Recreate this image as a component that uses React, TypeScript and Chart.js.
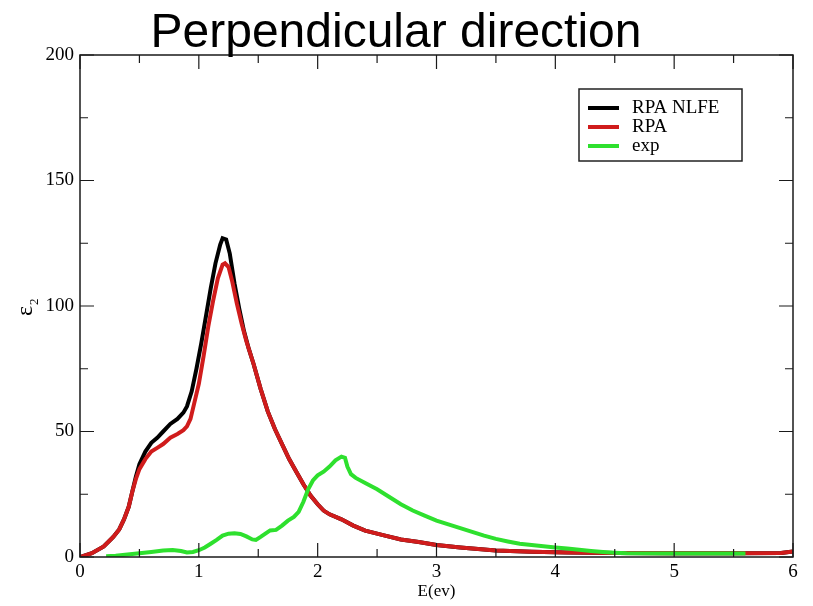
import React, { useEffect, useRef } from "react";
import { Chart, registerables } from "chart.js";
Chart.register(...registerables);

const titleText = "Perpendicular direction";
const xTitle = "E(ev)";
const yTitle = "ε";
const yTitleSub = "2";

const labels = ["RPA NLFE", "RPA", "exp"];

const nlfeE = [0, 0.1, 0.2, 0.28, 0.33, 0.37, 0.41, 0.44, 0.47, 0.5, 0.55, 0.6, 0.65, 0.7, 0.76, 0.82, 0.87, 0.9, 0.94, 0.98, 1.02, 1.06, 1.1, 1.14, 1.18, 1.2, 1.23, 1.26, 1.3, 1.34, 1.38, 1.42, 1.46, 1.52, 1.58, 1.64, 1.7, 1.76, 1.82, 1.88, 1.94, 2.0, 2.05, 2.1, 2.2, 2.3, 2.4, 2.55, 2.7, 2.85, 3.0, 3.2, 3.5, 3.8, 4.1, 4.5, 5.0, 5.5, 5.9, 6.0];
const nlfeV = [0, 1.5, 4.2, 8, 11, 15, 20, 26, 32, 37, 42, 45.5, 47.5, 50, 53, 55, 57.5, 60, 66, 75, 85, 96, 107, 117, 124.5, 127, 126.5, 121, 109, 99, 90, 83, 77, 67, 58, 51, 45, 39, 34, 29, 24.5, 21, 18.5, 17, 15, 12.5, 10.5, 8.7, 7, 6, 4.8, 3.8, 2.6, 2.1, 1.8, 1.6, 1.5, 1.5, 1.6, 2.2];

const rpaE = [0, 0.1, 0.2, 0.28, 0.33, 0.37, 0.41, 0.44, 0.47, 0.5, 0.55, 0.6, 0.65, 0.7, 0.76, 0.82, 0.87, 0.9, 0.93, 0.96, 1.0, 1.04, 1.08, 1.12, 1.16, 1.2, 1.22, 1.25, 1.28, 1.32, 1.36, 1.4, 1.46, 1.52, 1.58, 1.64, 1.7, 1.76, 1.82, 1.88, 1.94, 2.0, 2.05, 2.1, 2.2, 2.3, 2.4, 2.55, 2.7, 2.85, 3.0, 3.2, 3.5, 3.8, 4.1, 4.5, 5.0, 5.5, 5.9, 6.0];
const rpaV = [0, 1.5, 4.2, 8, 11, 15, 20, 26, 31, 35, 39, 42, 43.5, 45, 47.5, 49, 50.5, 52, 55, 61, 69, 80, 92, 102, 111, 116.5, 117, 115.5, 110, 101, 93, 86, 77, 67, 58, 51, 45, 39, 34, 29, 24.5, 21, 18.5, 17, 15, 12.5, 10.5, 8.7, 7, 6, 4.8, 3.8, 2.6, 2.1, 1.8, 1.6, 1.5, 1.5, 1.6, 2.2];

const expE = [0.22, 0.3, 0.4, 0.5, 0.6, 0.7, 0.78, 0.85, 0.9, 0.95, 1.0, 1.05, 1.1, 1.15, 1.2, 1.25, 1.3, 1.35, 1.4, 1.45, 1.48, 1.52, 1.56, 1.6, 1.65, 1.7, 1.75, 1.8, 1.84, 1.88, 1.92, 1.96, 2.0, 2.05, 2.1, 2.15, 2.2, 2.23, 2.25, 2.28, 2.32, 2.4, 2.5, 2.6, 2.7, 2.8, 2.9, 3.0, 3.1, 3.2, 3.3, 3.4, 3.5, 3.6, 3.7, 3.8, 3.9, 4.0, 4.1, 4.2, 4.3, 4.4, 4.5, 4.6, 5.0, 5.3, 5.6];
const expV = [0.3, 0.5, 1, 1.5, 2, 2.6, 2.8, 2.4, 1.8, 2, 2.7, 3.8, 5.3, 6.8, 8.5, 9.3, 9.5, 9.2, 8.2, 7, 6.8, 8, 9.3, 10.6, 10.8, 12.5, 14.5, 16, 18, 22, 27, 30.5, 32.5, 34, 36, 38.5, 40, 39.5, 36, 33, 31.5, 29.5, 27, 24, 21, 18.5, 16.5, 14.5, 13, 11.5, 10, 8.5, 7.2, 6.2, 5.3, 4.8, 4.3, 3.8, 3.4, 2.9, 2.4, 2, 1.7, 1.5, 1.4, 1.4, 1.4];

const xTicks = [0, 1, 2, 3, 4, 5, 6];
const yTicks = [0, 50, 100, 150, 200];

const colors = ["#000000", "#d01c1c", "#2ee02e"];

const pts = (xs: number[], ys: number[]) => xs.map((x, i) => ({ x, y: ys[i] }));

const decorPlugin = {
  id: "decor",
  afterDraw(chart: any) {
    const ctx = chart.ctx;
    const { left, right, top, bottom } = chart.chartArea;
    const xs = chart.scales.x;
    const ys = chart.scales.y;
    ctx.save();
    ctx.strokeStyle = "#1a1a1a";
    ctx.lineWidth = 1.5;
    ctx.strokeRect(left, top, right - left, bottom - top);
    ctx.lineWidth = 1.2;
    for (let v = xTicks[0]; v <= xTicks[xTicks.length - 1] + 1e-9; v += 0.5) {
      const px = xs.getPixelForValue(v);
      const major = Math.abs(v - Math.round(v)) < 1e-6;
      const len = major ? 14 : 8;
      ctx.beginPath();
      ctx.moveTo(px, bottom);
      ctx.lineTo(px, bottom - len);
      ctx.moveTo(px, top);
      ctx.lineTo(px, top + len);
      ctx.stroke();
    }
    for (let v = yTicks[0]; v <= yTicks[yTicks.length - 1] + 1e-9; v += 25) {
      const py = ys.getPixelForValue(v);
      const major = v % 50 === 0;
      const len = major ? 14 : 8;
      ctx.beginPath();
      ctx.moveTo(left, py);
      ctx.lineTo(left + len, py);
      ctx.moveTo(right, py);
      ctx.lineTo(right - len, py);
      ctx.stroke();
    }
    ctx.fillStyle = "#000";
    ctx.font = "48px 'Liberation Sans', Arial, sans-serif";
    ctx.textAlign = "center";
    ctx.textBaseline = "alphabetic";
    ctx.fillText(titleText, 396, 47);
    ctx.font = "17px 'Liberation Serif', serif";
    ctx.textBaseline = "middle";
    ctx.fillText(xTitle, (left + right) / 2, 592);
    ctx.save();
    ctx.translate(32, 316);
    ctx.rotate(-Math.PI / 2);
    ctx.font = "24px 'Liberation Serif', serif";
    ctx.textAlign = "left";
    ctx.textBaseline = "alphabetic";
    ctx.fillText(yTitle, 0, 0);
    ctx.font = "13px 'Liberation Serif', serif";
    ctx.fillText(yTitleSub, 11, 6);
    ctx.restore();
    const bx = 579, by = 89, bw = 163, bh = 72;
    ctx.fillStyle = "#fff";
    ctx.fillRect(bx, by, bw, bh);
    ctx.strokeStyle = "#222";
    ctx.lineWidth = 1.5;
    ctx.strokeRect(bx, by, bw, bh);
    ctx.font = "19px 'Liberation Serif', serif";
    ctx.textAlign = "left";
    ctx.textBaseline = "middle";
    const rowY = [108, 127, 146];
    labels.forEach((lab, i) => {
      ctx.strokeStyle = colors[i];
      ctx.lineWidth = 4;
      ctx.beginPath();
      ctx.moveTo(588, rowY[i]);
      ctx.lineTo(619, rowY[i]);
      ctx.stroke();
      ctx.fillStyle = "#000";
      ctx.fillText(lab, 632, rowY[i]);
    });
    ctx.restore();
  },
};

export default function App() {
  const ref = useRef<HTMLCanvasElement | null>(null);
  useEffect(() => {
    if (!ref.current) return;
    const chart = new Chart(ref.current, {
      type: "line",
      data: {
        datasets: [
          { label: labels[0], data: pts(nlfeE, nlfeV), borderColor: colors[0], borderWidth: 4, pointRadius: 0, tension: 0, order: 3 },
          { label: labels[1], data: pts(rpaE, rpaV), borderColor: colors[1], borderWidth: 4, pointRadius: 0, tension: 0, order: 2 },
          { label: labels[2], data: pts(expE, expV), borderColor: colors[2], borderWidth: 4, pointRadius: 0, tension: 0, order: 1 },
        ],
      },
      options: {
        animation: false,
        responsive: true,
        maintainAspectRatio: false,
        layout: { padding: { left: 0, top: 55, right: 20, bottom: 0 } },
        plugins: { legend: { display: false }, title: { display: false }, tooltip: { enabled: false } },
        scales: {
          x: {
            type: "linear",
            min: 0,
            max: 6,
            grid: { display: false, drawTicks: false },
            border: { display: false },
            ticks: { stepSize: 1, color: "#000", font: { family: "'Liberation Serif', serif", size: 19 }, padding: 4, maxRotation: 0 },
            afterFit: (s: any) => { s.height = 49; },
          },
          y: {
            type: "linear",
            min: 0,
            max: 200,
            grid: { display: false, drawTicks: false },
            border: { display: false },
            ticks: { stepSize: 50, color: "#000", font: { family: "'Liberation Serif', serif", size: 19 }, padding: 6 },
            afterFit: (s: any) => { s.width = 80; },
          },
        },
      },
      plugins: [decorPlugin],
    });
    return () => chart.destroy();
  }, []);
  return (
    <div style={{ position: "fixed", left: 0, top: 0, width: 813, height: 606, background: "#fff" }}>
      <canvas ref={ref} />
    </div>
  );
}
